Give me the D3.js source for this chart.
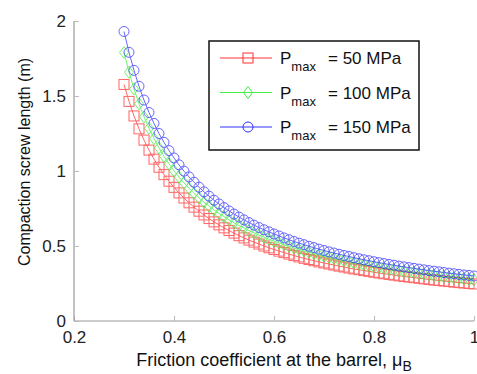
<!DOCTYPE html>
<html>
<head>
<meta charset="utf-8">
<script src="https://cdn.jsdelivr.net/npm/d3@7"></script>
<style>
  body { margin: 0; background: #fff; }
  svg { font-family: "Liberation Sans", Arial, sans-serif; }
</style>
</head>
<body>
<div id="chart"></div>
<script>
const width = 477;
const height = 374;
const margins = { top: 21, left: 74, bottom: 53, right: 3 };
const innerWidth = width - margins.left - margins.right;
const innerHeight = height - margins.top - margins.bottom;

// friction coefficient mu_B, 0.30 .. 1.00 step 0.01
const mu = [0.30,0.31,0.32,0.33,0.34,0.35,0.36,0.37,0.38,0.39,
  0.40,0.41,0.42,0.43,0.44,0.45,0.46,0.47,0.48,0.49,
  0.50,0.51,0.52,0.53,0.54,0.55,0.56,0.57,0.58,0.59,
  0.60,0.61,0.62,0.63,0.64,0.65,0.66,0.67,0.68,0.69,
  0.70,0.71,0.72,0.73,0.74,0.75,0.76,0.77,0.78,0.79,
  0.80,0.81,0.82,0.83,0.84,0.85,0.86,0.87,0.88,0.89,
  0.90,0.91,0.92,0.93,0.94,0.95,0.96,0.97,0.98,0.99,1.00];

const p50 = [1.577,1.464,1.367,1.281,1.206,1.139,1.079,1.025,0.976,0.932,
  0.891,0.854,0.820,0.788,0.759,0.732,0.707,0.683,0.661,0.641,
  0.621,0.603,0.586,0.569,0.554,0.539,0.526,0.513,0.500,0.488,
  0.477,0.466,0.456,0.446,0.436,0.427,0.418,0.410,0.402,0.394,
  0.387,0.380,0.373,0.366,0.360,0.353,0.347,0.342,0.336,0.331,
  0.325,0.320,0.315,0.311,0.306,0.301,0.297,0.293,0.289,0.285,
  0.281,0.277,0.273,0.270,0.266,0.263,0.259,0.256,0.253,0.250,0.247];

const p100 = [1.790,1.659,1.547,1.448,1.361,1.285,1.216,1.154,1.098,1.048,
  1.002,0.960,0.921,0.885,0.852,0.821,0.792,0.766,0.741,0.717,
  0.696,0.675,0.655,0.637,0.620,0.603,0.588,0.573,0.559,0.545,
  0.533,0.520,0.509,0.498,0.487,0.477,0.467,0.458,0.449,0.440,
  0.432,0.424,0.416,0.408,0.401,0.394,0.387,0.381,0.375,0.369,
  0.363,0.357,0.352,0.346,0.341,0.336,0.331,0.326,0.322,0.317,
  0.313,0.309,0.305,0.300,0.297,0.293,0.289,0.285,0.282,0.278,0.275];

const p150 = [1.930,1.791,1.671,1.565,1.473,1.390,1.317,1.250,1.191,1.136,
  1.087,1.041,0.999,0.961,0.925,0.892,0.861,0.832,0.805,0.780,
  0.756,0.734,0.713,0.693,0.674,0.656,0.639,0.623,0.608,0.594,
  0.580,0.567,0.554,0.542,0.530,0.519,0.509,0.498,0.489,0.479,
  0.470,0.461,0.453,0.445,0.437,0.430,0.422,0.415,0.408,0.402,
  0.395,0.389,0.383,0.377,0.372,0.366,0.361,0.356,0.351,0.346,
  0.341,0.336,0.332,0.328,0.323,0.319,0.315,0.311,0.307,0.304,0.300];

const xTicks = [0.2, 0.4, 0.6, 0.8, 1];
const yTicks = [0, 0.5, 1, 1.5, 2];
const legendLabels = ["50 MPa", "100 MPa", "150 MPa"];

const series = [
  { values: p50, color: "#ff3333", marker: "square", label: legendLabels[0] },
  { values: p100, color: "#44ee44", marker: "diamond", label: legendLabels[1] },
  { values: p150, color: "#3333ff", marker: "circle", label: legendLabels[2] }
];

const xScale = d3.scaleLinear().domain([0.2, 1]).range([0, innerWidth]);
const yScale = d3.scaleLinear().domain([0, 2]).range([innerHeight, 0]);

const svg = d3.select("#chart").append("svg")
  .attr("width", width)
  .attr("height", height);

const mainG = svg.append("g")
  .attr("transform", `translate(${margins.left}, ${margins.top})`);

// axes
const xAxis = d3.axisBottom(xScale).tickValues(xTicks).tickSize(-5).tickPadding(10)
  .tickFormat(d => d3.format("")(d));
const yAxis = d3.axisLeft(yScale).tickValues(yTicks).tickSize(-5).tickPadding(8)
  .tickFormat(d => d3.format("")(d));

const gx = mainG.append("g")
  .attr("transform", `translate(0, ${innerHeight})`)
  .call(xAxis);
const gy = mainG.append("g").call(yAxis);

[gx, gy].forEach(g => {
  g.select(".domain").attr("stroke", "#999").attr("stroke-width", 1.2);
  g.selectAll(".tick line").attr("stroke", "#bbb");
  g.selectAll(".tick text").attr("fill", "#222").style("font-size", "17px");
});
gx.select(".domain").attr("d", `M0,0H${innerWidth}`);
gy.select(".domain").attr("d", `M0,${innerHeight}V0`);

function drawMarker(sel, type, size, color) {
  if (type === "square") {
    sel.append("rect")
      .attr("x", -size / 2).attr("y", -size / 2)
      .attr("width", size).attr("height", size)
      .attr("fill", "none").attr("stroke", color).attr("stroke-width", 1);
  } else if (type === "diamond") {
    const s = size / 2 + 1;
    sel.append("path")
      .attr("d", `M0,${-s}L${s * 0.75},0L0,${s}L${-s * 0.75},0Z`)
      .attr("fill", "none").attr("stroke", color).attr("stroke-width", 1);
  } else {
    sel.append("circle")
      .attr("r", size / 2)
      .attr("fill", "none").attr("stroke", color).attr("stroke-width", 1);
  }
}

const line = d3.line()
  .x((d, i) => xScale(mu[i]))
  .y(d => yScale(d));

series.forEach(s => {
  const g = mainG.append("g").attr("opacity", 0.75);
  g.append("path")
    .datum(s.values)
    .attr("d", line)
    .attr("fill", "none")
    .attr("stroke", s.color)
    .attr("stroke-width", 1);
  g.selectAll("g.mk")
    .data(s.values)
    .enter()
    .append("g")
    .attr("class", "mk")
    .attr("transform", (d, i) => `translate(${xScale(mu[i])}, ${yScale(d)})`)
    .each(function () { drawMarker(d3.select(this), s.marker, 10, s.color); });
});

// legend
const legend = svg.append("g").attr("transform", "translate(209, 41)");
legend.append("rect")
  .attr("width", 210).attr("height", 109)
  .attr("fill", "#fff").attr("stroke", "#111").attr("stroke-width", 1.5);

series.forEach((s, i) => {
  const y = 17 + i * 34.5;
  const row = legend.append("g").attr("transform", `translate(0, ${y})`);
  row.append("line")
    .attr("x1", 11).attr("x2", 63).attr("y1", 0).attr("y2", 0)
    .attr("stroke", s.color).attr("stroke-width", 1);
  const m = row.append("g").attr("transform", "translate(39, 0)");
  drawMarker(m, s.marker, 10, s.color);
  const t = row.append("text")
    .attr("x", 71).attr("y", 6)
    .attr("fill", "#111")
    .style("font-size", "17px");
  t.append("tspan").text("P");
  t.append("tspan").attr("dy", 7).style("font-size", "13px").text("max");
  t.append("tspan").attr("dy", -7).attr("x", 119).text("= " + s.label);
});

// axis labels
const xl = svg.append("text")
  .attr("x", margins.left + innerWidth / 2)
  .attr("y", 366)
  .attr("text-anchor", "middle")
  .attr("fill", "#111")
  .style("font-size", "18px");
xl.append("tspan").text("Friction coefficient at the barrel, \u03bc");
xl.append("tspan").attr("dy", 5).style("font-size", "14px").text("B");

svg.append("text")
  .attr("transform", `translate(30, 162) rotate(-90)`)
  .attr("text-anchor", "middle")
  .attr("fill", "#111")
  .style("font-size", "16px")
  .text("Compaction screw length (m)");
</script>
</body>
</html>
